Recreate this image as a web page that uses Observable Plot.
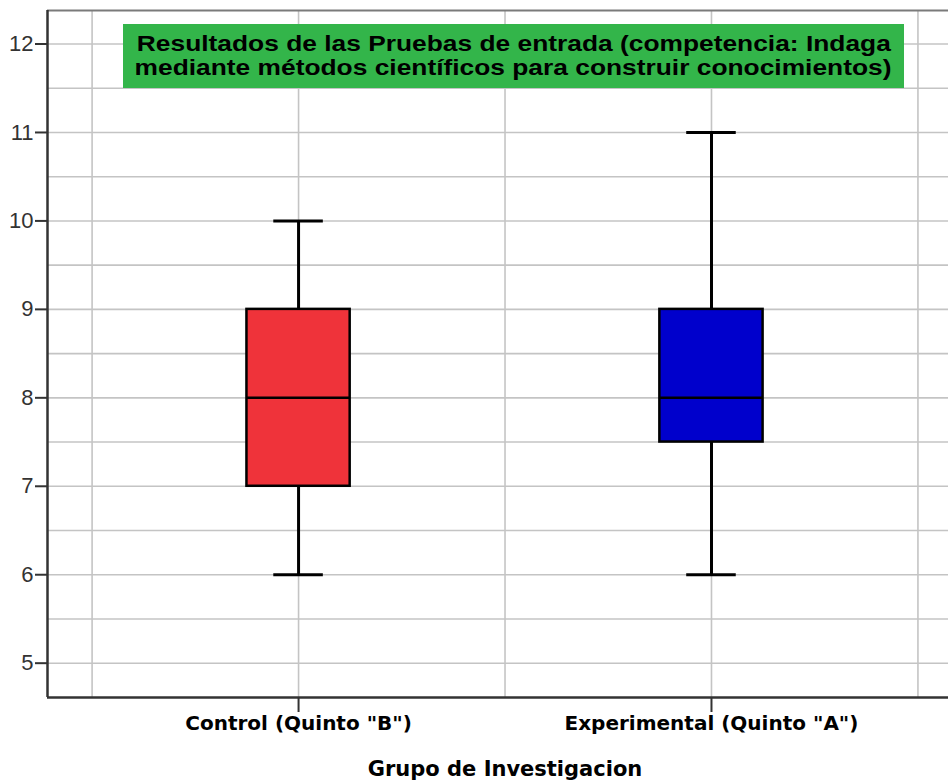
<!DOCTYPE html>
<html>
<head>
<meta charset="utf-8">
<script src="https://cdn.jsdelivr.net/npm/d3@7"></script>
<script src="https://cdn.jsdelivr.net/npm/@observablehq/plot@0.6"></script>
<style>
  html, body { margin: 0; padding: 0; background: #fff; }
  #wrap { position: relative; width: 948px; height: 780px; overflow: hidden; }
  #title {
    position: absolute; left: 123px; top: 24px; width: 781px; height: 64px;
    background: #33b54a; color: #000;
    font: bold 22px "Liberation Sans", Arial, sans-serif;
    line-height: 24px; text-align: center; box-sizing: border-box; padding-top: 8px;
  }
  #title span { display: inline-block; white-space: nowrap; transform-origin: center; }
</style>
</head>
<body>
<div id="wrap"></div>
<script>
// ---- data ----
const categories = ['Control (Quinto "B")', 'Experimental (Quinto "A")'];
const minVals = [6, 6];
const q1Vals = [7, 7.5];
const medianVals = [8, 8];
const q3Vals = [9, 9];
const maxVals = [10, 11];
const fillColors = ["#ef333a", "#0000cc"];
const yTicks = [5, 6, 7, 8, 9, 10, 11, 12];
const titleLines = ["Resultados de las Pruebas de entrada (competencia: Indaga", "mediante métodos científicos para construir conocimientos)"];
const xTitle = "Grupo de Investigacion";

const boxes = categories.map((c, i) => ({
  cat: c, pos: i + 1, min: minVals[i], q1: q1Vals[i], median: medianVals[i],
  q3: q3Vals[i], max: maxVals[i], fill: fillColors[i]
}));

const xDom = [0.392, 2.574];
const yDom = [4.612, 12.379];
const halfBox = 0.125, halfCap = 0.06;
const hGrid = d3.range(5, 12.01, 0.5);
const vGrid = d3.range(0.5, 2.51, 0.5);

const chart = Plot.plot({
  width: 948,
  height: 780,
  marginLeft: 47,
  marginRight: 0,
  marginTop: 10,
  marginBottom: 83,
  style: { fontFamily: "Liberation Sans, Arial, sans-serif", background: "#fff" },
  x: { type: "linear", domain: xDom, axis: null },
  y: { type: "linear", domain: yDom, axis: null },
  marks: [
    Plot.ruleY(hGrid, { stroke: "#c4c4c4", strokeWidth: 1.6 }),
    Plot.ruleX(vGrid, { stroke: "#c4c4c4", strokeWidth: 1.6 }),
    Plot.ruleY([yDom[1]], { stroke: "#7a7a7a", strokeWidth: 2 }),
    // whiskers
    Plot.ruleX(boxes, { x: "pos", y1: "q3", y2: "max", stroke: "#000", strokeWidth: 3 }),
    Plot.ruleX(boxes, { x: "pos", y1: "min", y2: "q1", stroke: "#000", strokeWidth: 3 }),
    Plot.ruleY(boxes, { y: "max", x1: d => d.pos - halfCap, x2: d => d.pos + halfCap, stroke: "#000", strokeWidth: 3 }),
    Plot.ruleY(boxes, { y: "min", x1: d => d.pos - halfCap, x2: d => d.pos + halfCap, stroke: "#000", strokeWidth: 3 }),
    // boxes
    Plot.rect(boxes, { x1: d => d.pos - halfBox, x2: d => d.pos + halfBox, y1: "q1", y2: "q3", fill: "fill", stroke: "#000", strokeWidth: 2.5 }),
    Plot.ruleY(boxes, { y: "median", x1: d => d.pos - halfBox, x2: d => d.pos + halfBox, stroke: "#000", strokeWidth: 2.5 }),
    // axis lines
    Plot.ruleX([xDom[0]], { stroke: "#333", strokeWidth: 2.5 }),
    Plot.ruleY([yDom[0]], { stroke: "#333", strokeWidth: 2.5 }),
    Plot.axisY(yTicks, { tickSize: 12, tickPadding: 2, fontSize: 22, tickFormat: d3.format("d"), stroke: "#333", strokeWidth: 2, fill: "#333", label: null }),
    Plot.axisX([1, 2], { tickSize: 15, tickPadding: 3, fontSize: 20, fontWeight: "bold", fontFamily: "DejaVu Sans", stroke: "#333", strokeWidth: 2, fill: "#000",
      tickFormat: d => categories[d - 1], label: null }),
    Plot.text([xTitle], { x: () => (1 + categories.length) / 2, frameAnchor: "bottom", dy: 78, text: d => d, fontSize: 21, fontWeight: "bold", fontFamily: "DejaVu Sans", fill: "#000" })
  ]
});

const wrap = document.getElementById("wrap");
wrap.appendChild(chart);
const t = document.createElement("div");
t.id = "title";
t.innerHTML = titleLines.map(s => `<span>${s}</span>`).join("<br>");
wrap.appendChild(t);
// stretch title lines horizontally to the reference's wide glyph look
const spans = t.querySelectorAll("span");
const w0 = spans[0].getBoundingClientRect().width;
const sx = 754 / w0;
spans.forEach(s => { s.style.transform = `scaleX(${sx})`; });
</script>
</body>
</html>
